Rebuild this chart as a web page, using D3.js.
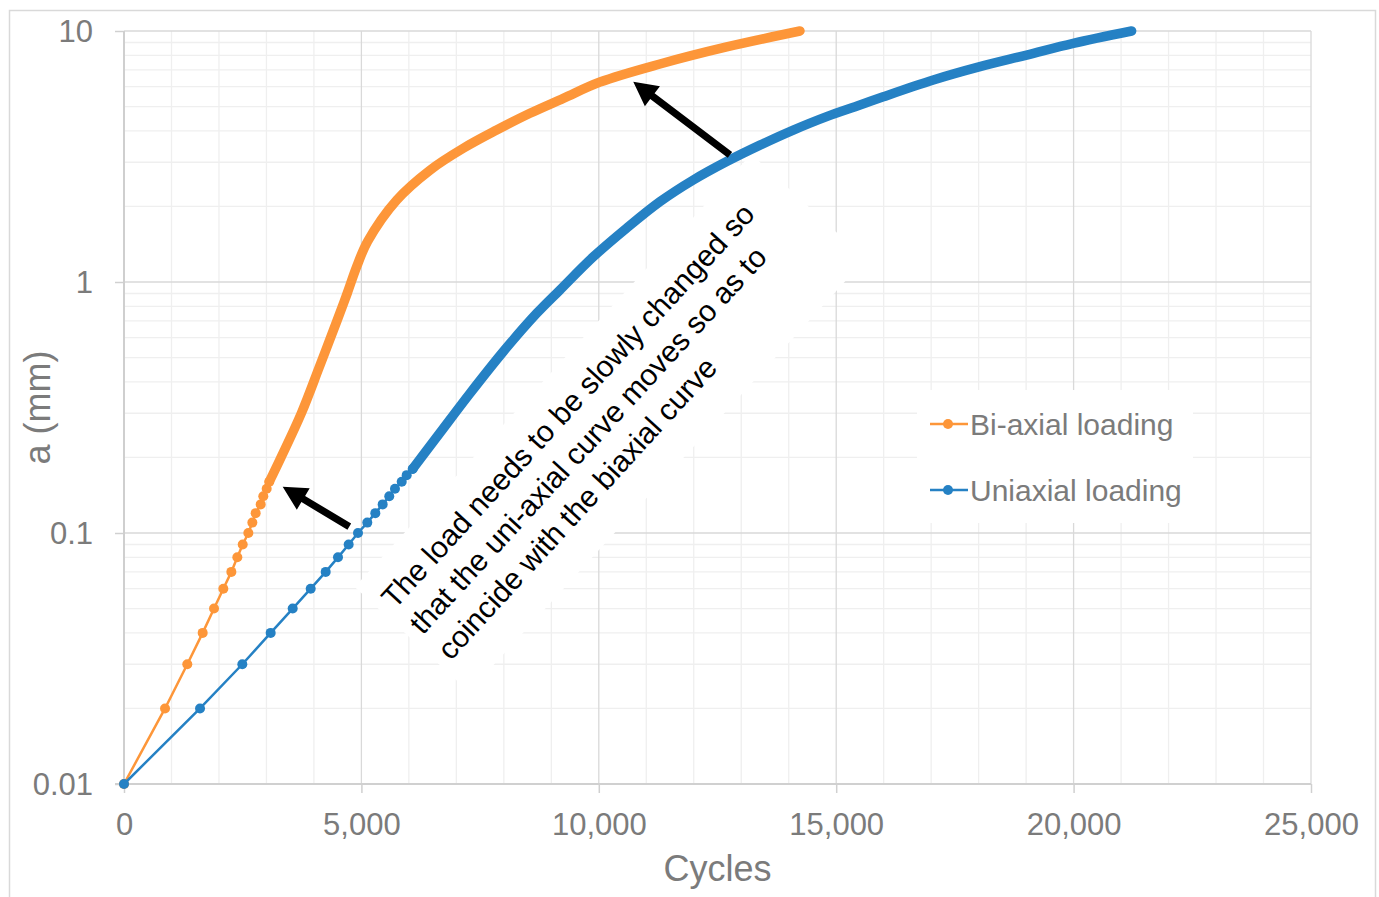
<!DOCTYPE html>
<html>
<head>
<meta charset="utf-8">
<script src="https://cdn.jsdelivr.net/npm/d3@7"></script>
<style>
  body { margin: 0; background: #fff; }
  text { font-family: "Liberation Sans", Arial, sans-serif; }
</style>
</head>
<body>
<script>

// crack length a (mm) against cycles
// points where the markers still stand apart
var biaxialSparse = [[0, 0.01], [864, 0.02], [1333, 0.03], [1657, 0.04], [1896, 0.05],
  [2092, 0.06], [2261, 0.07], [2387, 0.08], [2500, 0.09], [2619, 0.10], [2703, 0.11],
  [2773, 0.12], [2879, 0.13], [2934, 0.14], [3005, 0.15], [3060, 0.16]];
var uniaxialSparse = [[0, 0.01], [1601, 0.02], [2492, 0.03], [3089, 0.04], [3553, 0.05],
  [3932, 0.06], [4248, 0.07], [4507, 0.08], [4732, 0.09], [4928, 0.10], [5124, 0.11],
  [5293, 0.12], [5448, 0.13], [5587, 0.14], [5707, 0.15], [5849, 0.16], [5954, 0.17],
  [6080, 0.18]];

// points where the markers run together into a solid band
var biaxialDense = [[3060, 0.16], [3306, 0.20], [3735, 0.30], [4117, 0.46], [4492, 0.706],
  [4700, 0.90], [4900, 1.15], [5130, 1.45], [5743, 2.12], [6444, 2.79], [7146, 3.41],
  [7849, 4.03], [8550, 4.70], [9252, 5.39], [10025, 6.26], [11288, 7.39], [12693, 8.64],
  [14237, 10]];
var uniaxialDense = [[6080, 0.18], [6650, 0.25], [7287, 0.36], [7988, 0.528], [8692, 0.75],
  [9180, 0.929], [9884, 1.26], [10587, 1.64], [11288, 2.09], [11990, 2.55], [12693, 3.02],
  [13394, 3.51], [14096, 4.03], [14799, 4.56], [15500, 5.07], [15991, 5.47], [17044, 6.38],
  [18027, 7.21], [19011, 8.02], [19992, 8.93], [21222, 10]];

var seriesNames = ["Bi-axial loading", "Uniaxial loading"];
var yTickValues = [0.01, 0.1, 1, 10];
var yTickLabels = ["0.01", "0.1", "1", "10"];

// annotation, in data units: arrows [tail, tip] and text anchor
var arrows = [[[4745, 0.106], [3342, 0.153]], [[12762, 3.21], [10726, 6.28]]];
var noteAnchor = [5700, 0.0493];
var noteLines = ["The load needs to be slowly changed so",
                 "that the uni-axial curve moves so as to",
                 "coincide with the biaxial curve"];

var orange = "#fd9639", blue = "#2581c4";
var labelGrey = "#7b7b7b";

var width = 1379, height = 897;
var margin = {top: 31, right: 68, bottom: 113, left: 124};

var svg = d3.select("body").append("svg")
    .attr("width", width)
    .attr("height", height);

// outer chart border
svg.append("rect")
    .attr("x", 9.5).attr("y", 10.5)
    .attr("width", 1366).attr("height", 900)
    .attr("fill", "none")
    .attr("stroke", "#d9d9d9")
    .attr("stroke-width", 1.5);

var x = d3.scaleLinear()
    .domain([0, 25000])
    .range([margin.left, width - margin.right]);

var y = d3.scaleLog()
    .domain([0.01, 10])
    .range([height - margin.bottom, margin.top]);

var grid = svg.append("g");

// minor gridlines
grid.selectAll(".xminor")
    .data(x.ticks(25).filter(function(d) { return d % 5000 != 0; }))
    .enter().append("line")
    .attr("x1", x).attr("x2", x)
    .attr("y1", y(0.01)).attr("y2", y(10))
    .attr("stroke", "#efefef").attr("stroke-width", 1.3);

grid.selectAll(".yminor")
    .data(y.ticks().filter(function(d) { return yTickValues.indexOf(d) < 0; }))
    .enter().append("line")
    .attr("x1", x(0)).attr("x2", x(25000))
    .attr("y1", y).attr("y2", y)
    .attr("stroke", "#efefef").attr("stroke-width", 1.3);

// major gridlines
grid.selectAll(".xmajor")
    .data(x.ticks(5).slice(1))
    .enter().append("line")
    .attr("x1", x).attr("x2", x)
    .attr("y1", y(0.01)).attr("y2", y(10))
    .attr("stroke", "#d9d9d9").attr("stroke-width", 1.3);

grid.selectAll(".ymajor")
    .data(yTickValues.slice(1))
    .enter().append("line")
    .attr("x1", x(0)).attr("x2", x(25000))
    .attr("y1", y).attr("y2", y)
    .attr("stroke", "#d9d9d9").attr("stroke-width", 1.3);

// axes
var y_axis = d3.axisLeft(y)
    .tickValues(yTickValues)
    .tickFormat(function(d, i) { return yTickLabels[i]; })
    .tickSize(9)
    .tickPadding(22);

var x_axis = d3.axisBottom(x)
    .ticks(5)
    .tickFormat(d3.format(","))
    .tickSize(9)
    .tickPadding(20);

var gy = svg.append("g")
    .attr("transform", "translate(" + x(0) + ",0)")
    .call(y_axis);

var gx = svg.append("g")
    .attr("transform", "translate(0," + y(0.01) + ")")
    .call(x_axis);

[gx, gy].forEach(function(g) {
  g.select(".domain").remove();
  g.selectAll(".tick line").attr("stroke", "#d0d0d0").attr("stroke-width", 1.5);
  g.selectAll(".tick text")
    .attr("fill", labelGrey)
    .style("font-size", "31px")
    .style("font-family", "'Liberation Sans', Arial, sans-serif");
});
gy.selectAll(".tick text").attr("dy", "0.34em");

svg.append("line")
    .attr("x1", x(0)).attr("x2", x(0))
    .attr("y1", y(10)).attr("y2", y(0.01) + 1)
    .attr("stroke", "#cfcfcf").attr("stroke-width", 2);

svg.append("line")
    .attr("x1", x(0) - 9).attr("x2", x(25000))
    .attr("y1", y(0.01)).attr("y2", y(0.01))
    .attr("stroke", "#d0d0d0").attr("stroke-width", 2);

// axis titles
svg.append("text")
    .attr("x", (x(0) + x(25000)) / 2)
    .attr("y", 881)
    .attr("text-anchor", "middle")
    .attr("fill", labelGrey)
    .style("font-size", "36px")
    .text("Cycles");

svg.append("text")
    .attr("transform", "translate(50," + (y(0.01) + y(10)) / 2 + ") rotate(-90)")
    .attr("text-anchor", "middle")
    .attr("fill", labelGrey)
    .style("font-size", "36px")
    .text("a (mm)");

// white box behind the legend
svg.append("rect")
    .attr("x", 917).attr("y", 390)
    .attr("width", 276).attr("height", 133)
    .attr("fill", "#fff");

// white box behind the note
var nx = x(noteAnchor[0]), ny = y(noteAnchor[1]);
var note = svg.append("g")
    .attr("transform", "translate(" + nx + "," + ny + ") rotate(-47.5)");

note.append("rect")
    .attr("x", -10).attr("y", -45)
    .attr("width", 587).attr("height", 155)
    .attr("fill", "#fff");

// series
var line = d3.line()
    .x(function(d) { return x(d[0]); })
    .y(function(d) { return y(d[1]); });

var smooth = d3.line()
    .curve(d3.curveCatmullRom.alpha(0.5))
    .x(function(d) { return x(d[0]); })
    .y(function(d) { return y(d[1]); });

var series = [
  {sparse: biaxialSparse, dense: biaxialDense, color: orange},
  {sparse: uniaxialSparse, dense: uniaxialDense, color: blue}
];

series.forEach(function(s) {
  var g = svg.append("g");

  g.append("path")
    .attr("d", line(s.sparse))
    .attr("fill", "none")
    .attr("stroke", s.color)
    .attr("stroke-width", 2.5);

  g.append("path")
    .attr("d", smooth(s.dense))
    .attr("fill", "none")
    .attr("stroke", s.color)
    .attr("stroke-width", 9.5)
    .attr("stroke-linecap", "round")
    .attr("stroke-linejoin", "round");

  g.selectAll("circle")
    .data(s.sparse)
    .enter().append("circle")
    .attr("cx", function(d) { return x(d[0]); })
    .attr("cy", function(d) { return y(d[1]); })
    .attr("r", 5)
    .attr("fill", s.color);
});

// note text
note.selectAll("text")
    .data(noteLines)
    .enter().append("text")
    .attr("x", 0)
    .attr("y", function(d, i) { return i * 38; })
    .attr("fill", "#000")
    .style("font-size", "30px")
    .text(function(d) { return d; });

// arrows
arrows.forEach(function(a) {
  var x0 = x(a[0][0]), y0 = y(a[0][1]);
  var x1 = x(a[1][0]), y1 = y(a[1][1]);
  var len = Math.sqrt((x1 - x0) * (x1 - x0) + (y1 - y0) * (y1 - y0));
  var ang = Math.atan2(y1 - y0, x1 - x0) * 180 / Math.PI;
  var hl = 24, hw = 12.5, sw = 3.6;
  var pts = [[0, -sw], [len - hl, -sw], [len - hl, -hw], [len, 0],
             [len - hl, hw], [len - hl, sw], [0, sw]];
  svg.append("polygon")
    .attr("points", pts.map(function(p) { return p.join(","); }).join(" "))
    .attr("transform", "translate(" + x0 + "," + y0 + ") rotate(" + ang + ")")
    .attr("fill", "#000");
});

// legend
var legend = svg.append("g");
seriesNames.forEach(function(name, i) {
  var ly = 424 + i * 66;
  var col = series[i].color;
  legend.append("line")
    .attr("x1", 930).attr("x2", 968)
    .attr("y1", ly).attr("y2", ly)
    .attr("stroke", col).attr("stroke-width", 2.5);
  legend.append("circle")
    .attr("cx", 948).attr("cy", ly).attr("r", 5)
    .attr("fill", col);
  legend.append("text")
    .attr("x", 970).attr("y", ly + 10.5)
    .attr("fill", labelGrey)
    .style("font-size", "30px")
    .text(name);
});

</script>
</body>
</html>
